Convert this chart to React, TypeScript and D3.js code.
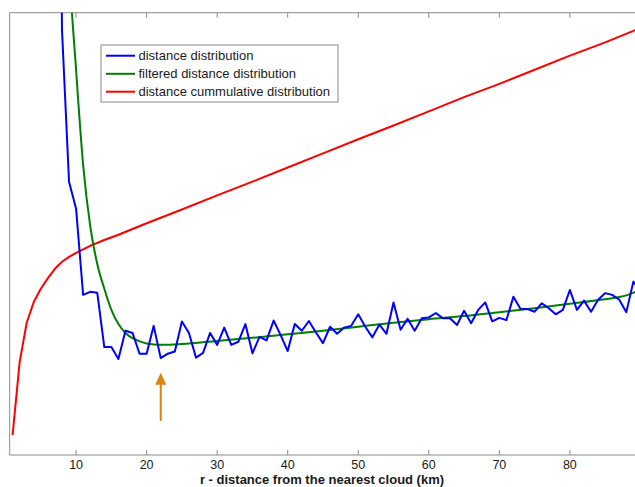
import React from "react";
import * as d3 from "d3";

// ---- data (y in arbitrary units 0..100) ----
const blueX = [7, 8, 9, 10, 11, 12, 13, 14, 15, 16, 17, 18, 19, 20, 21, 22, 23, 24, 25, 26, 27, 28, 29, 30, 31, 32, 33, 34, 35, 36, 37, 38, 39, 40, 41, 42, 43, 44, 45, 46, 47, 48, 49, 50, 51, 52, 53, 54, 55, 56, 57, 58, 59, 60, 61, 62, 63, 64, 65, 66, 67, 68, 69, 70, 71, 72, 73, 74, 75, 76, 77, 78, 79, 80, 81, 82, 83, 84, 85, 86, 87, 88, 89, 90];
const blueY = [300, 96.2, 61.8, 55.7, 36.2, 36.9, 36.7, 24.4, 24.4, 21.7, 28.1, 27.6, 22.9, 22.9, 29.2, 21.9, 22.9, 23.4, 30.2, 27.6, 22.0, 23.1, 27.6, 24.9, 28.8, 24.9, 25.6, 29.6, 23.0, 26.7, 25.9, 30.4, 27.1, 23.5, 29.6, 28.1, 30.3, 27.7, 25.3, 29.0, 27.4, 28.8, 29.2, 31.8, 29.0, 26.6, 29.5, 27.4, 34.5, 28.3, 30.8, 28.1, 30.9, 31.1, 32.1, 30.9, 30.9, 29.4, 32.6, 29.8, 32.8, 34.5, 30.2, 31.0, 30.5, 35.8, 33.0, 33.0, 32.4, 34.3, 33.2, 31.8, 32.8, 37.3, 32.8, 34.9, 32.4, 35.1, 36.6, 36.2, 35.1, 32.3, 39.2, 37.0];

const greenX = [8, 9, 10, 11, 12, 13, 14, 15, 16, 17, 18, 19, 20, 21, 22, 23, 24, 25, 30, 35, 40, 45, 50, 55, 60, 65, 70, 75, 80, 85, 87, 88, 89, 90];
const greenY = [160, 112, 87.1, 65.6, 51.8, 43.2, 37.6, 32.8, 29.6, 27.6, 26.4, 25.7, 25.2, 25.0, 24.9, 24.9, 25.0, 25.1, 25.8, 26.5, 27.3, 28.1, 29.0, 29.9, 30.7, 31.4, 32.3, 33.2, 34.2, 35.2, 35.7, 36.1, 36.7, 37.2];

const redX = [1, 2, 3, 4, 5, 6, 7, 8, 9, 10, 12, 14, 16, 18, 20, 25, 30, 35, 40, 45, 50, 55, 60, 65, 70, 75, 80, 85, 89, 90];
const redY = [4.5, 21.0, 29.9, 34.6, 37.6, 40.0, 42.1, 43.7, 44.8, 45.7, 47.3, 48.6, 49.8, 51.1, 52.4, 55.5, 58.7, 61.8, 65.0, 68.2, 71.4, 74.5, 77.7, 80.9, 83.9, 87.1, 90.3, 93.3, 95.9, 96.6];

const xTicks = [10, 20, 30, 40, 50, 60, 70, 80];
const legendLabels = [
  "distance distribution",
  "filtered distance distribution",
  "distance cummulative distribution",
];
const seriesColors = ["#0000FF", "#007F00", "#FF0000"];

// arrow annotation (data coords)
const arrowX = 22;
const arrowFromY = 7.7;
const arrowToY = 18.6;

const W = 635;
const H = 487;
const left = 9.7;
const right = 635;
const top = 12.7;
const bottom = 455;

export default function App() {
  const x = d3.scaleLinear().domain([0.59, 89.23]).range([left, right]);
  const y = d3.scaleLinear().domain([0, 100]).range([bottom, top]);

  const mk = (xs: number[], ys: number[], curve: any) =>
    d3
      .line<number>()
      .x((_, i) => x(xs[i]))
      .y((d) => y(d))
      .curve(curve)(ys) || "";

  const bluePath = mk(blueX, blueY, d3.curveLinear);
  const greenPath = mk(greenX, greenY, d3.curveMonotoneX);
  const redPath = mk(redX, redY, d3.curveLinear);

  const font = "'Liberation Sans', Arial, Helvetica, sans-serif";
  const axisColor = "#8a8a8a";

  const ax = x(arrowX);
  const aFrom = y(arrowFromY);
  const aTo = y(arrowToY);
  const headLen = 12;
  const headW = 5.5;

  const legX = 101;
  const legY = 45;
  const legW = 237;
  const legH = 57;
  const rowY = [55.7, 73.8, 91.7];

  return (
    <svg
      width={W}
      height={H}
      style={{ position: "absolute", left: 0, top: 0, background: "#fff" }}
      fontFamily={font}
    >
      <defs>
        <clipPath id="plot">
          <rect x={left} y={top} width={right - left + 2} height={bottom - top} />
        </clipPath>
      </defs>
      <rect x={0} y={0} width={W} height={H} fill="#fff" />

      {/* axes box */}
      <line x1={left} y1={top} x2={W + 2} y2={top} stroke={axisColor} strokeWidth={1} />
      <line x1={left} y1={bottom} x2={W + 2} y2={bottom} stroke={axisColor} strokeWidth={1} />
      <line x1={left} y1={top} x2={left} y2={bottom} stroke={axisColor} strokeWidth={1} />
      {xTicks.map((t) => (
        <g key={t}>
          <line x1={x(t)} x2={x(t)} y1={bottom} y2={bottom - 5} stroke={axisColor} />
          <line x1={x(t)} x2={x(t)} y1={top} y2={top + 5} stroke={axisColor} />
          <text
            x={x(t)}
            y={468.5}
            textAnchor="middle"
            fontSize={12.5}
            fill="#1a1a1a"
          >
            {t}
          </text>
        </g>
      ))}
      <text
        x={322}
        y={484}
        textAnchor="middle"
        fontSize={13}
        fontWeight="bold"
        fill="#1a1a1a"
      >
        r - distance from the nearest cloud (km)
      </text>

      <g clipPath="url(#plot)" fill="none" strokeWidth={2} strokeLinejoin="round">
        <path d={redPath} stroke={seriesColors[2]} />
        <path d={greenPath} stroke={seriesColors[1]} />
        <path d={bluePath} stroke={seriesColors[0]} />
      </g>

      {/* arrow */}
      <line x1={ax} x2={ax} y1={aFrom} y2={aTo + headLen - 1} stroke="#E0820F" strokeWidth={2} />
      <path
        d={`M${ax},${aTo} L${ax - headW},${aTo + headLen} L${ax + headW},${aTo + headLen} Z`}
        fill="#E0820F"
      />

      {/* legend */}
      <rect x={legX} y={legY} width={legW} height={legH} fill="#fff" stroke="#8a8a8a" strokeWidth={1} />
      {legendLabels.map((lab, i) => (
        <g key={lab}>
          <line
            x1={106}
            x2={135}
            y1={rowY[i]}
            y2={rowY[i]}
            stroke={seriesColors[i]}
            strokeWidth={2}
          />
          <text x={138.5} y={rowY[i] + 4.5} fontSize={13} fill="#1a1a1a">
            {lab}
          </text>
        </g>
      ))}
    </svg>
  );
}
